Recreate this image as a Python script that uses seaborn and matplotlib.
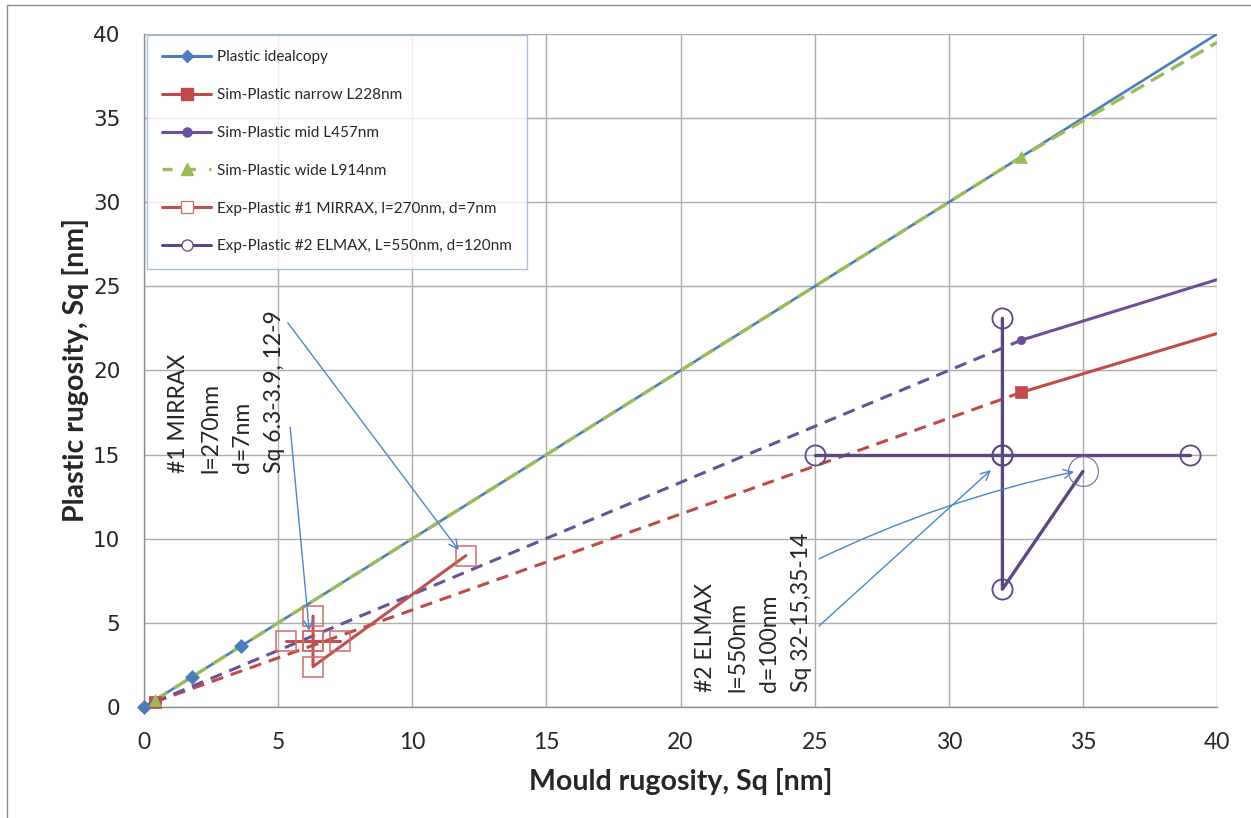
import numpy as np
import pandas as pd
import matplotlib
matplotlib.use("Agg")
import matplotlib.pyplot as plt
import seaborn as sns
from matplotlib.lines import Line2D
from matplotlib.patches import Rectangle

# ---------------- data ----------------
ideal_mould = [0.0, 1.8, 3.6, 40.0]
ideal_plastic = [0.0, 1.8, 3.6, 40.0]

sim_mould = [0.4, 32.7, 40.0]
sim_narrow = [0.3, 18.7, 22.2]
sim_mid = [0.3, 21.8, 25.4]
sim_wide = [0.4, 32.7, 39.5]

exp1_mould = [5.3, 6.3, 7.3, 6.3, 6.3, 6.3, 12.0]
exp1_plastic = [3.9, 3.9, 3.9, 5.4, 3.9, 2.4, 9.0]
exp1_trace = [0, 0, 0, 1, 1, 1, 1]

exp2_mould = [25.0, 32.0, 39.0, 32.0, 32.0, 32.0, 35.0]
exp2_plastic = [15.0, 15.0, 15.0, 23.1, 15.0, 7.0, 14.0]
exp2_trace = [0, 0, 0, 1, 1, 1, 1]

legend_labels = [
    "Plastic idealcopy",
    "Sim-Plastic narrow L228nm",
    "Sim-Plastic mid L457nm",
    "Sim-Plastic wide L914nm",
    "Exp-Plastic #1 MIRRAX, l=270nm, d=7nm",
    "Exp-Plastic #2 ELMAX, L=550nm, d=120nm",
]
ticks = [0, 5, 10, 15, 20, 25, 30, 35, 40]

note1 = "#1 MIRRAX\nl=270nm\nd=7nm\nSq 6.3-3.9, 12-9"
note2 = "#2 ELMAX\nl=550nm\nd=100nm\nSq 32-15,35-14"

# ---------------- style ----------------
sns.set_style("white")
plt.rcParams["font.family"] = ["Lato", "DejaVu Sans"]

BLUE = "#4A7EBB"
RED = "#BE4B48"
PURPLE = "#6B4F98"
PURPLE2 = "#5E4683"
GREEN = "#9BBB59"
ARROW = "#4A86C8"
GRID = "#ADADAD"

fig = plt.figure(figsize=(12.51, 8.18), dpi=100)
ax = fig.add_axes([144 / 1251, 1 - 707 / 818, (1217 - 144) / 1251, (707 - 34) / 818])


def draw(x, y, units=None, **kw):
    df = pd.DataFrame({"x": x, "y": y})
    if units is not None:
        df["u"] = units
        sns.lineplot(data=df, x="x", y="y", units="u", estimator=None, sort=False,
                     ax=ax, legend=False, **kw)
    else:
        sns.lineplot(data=df, x="x", y="y", estimator=None, sort=False,
                     ax=ax, legend=False, **kw)


# ideal copy
draw(ideal_mould, ideal_plastic, color=BLUE, lw=1.9, zorder=3)
draw(ideal_mould[:3], ideal_plastic[:3], color=BLUE, linestyle="none", marker="D",
     markersize=7.5, markeredgecolor=BLUE, markeredgewidth=0.5, clip_on=False, zorder=6)

# simulations: dashed up to the simulated point, solid beyond
draw(sim_mould[:2], sim_narrow[:2], color=RED, lw=2.2, linestyle=(0, (4, 2.6)), zorder=3)
draw(sim_mould[1:], sim_narrow[1:], color=RED, lw=2.2, zorder=3)
draw(sim_mould[:2], sim_narrow[:2], color=RED, linestyle="none", marker="s",
     markersize=8.5, markeredgecolor=RED, markeredgewidth=0.5, clip_on=False, zorder=6)

draw(sim_mould[:2], sim_mid[:2], color=PURPLE, lw=2.2, linestyle=(0, (4, 2.6)), zorder=3)
draw(sim_mould[1:], sim_mid[1:], color=PURPLE, lw=2.2, zorder=3)
draw(sim_mould[:2], sim_mid[:2], color=PURPLE, linestyle="none", marker="o",
     markersize=6, markeredgecolor=PURPLE, markeredgewidth=0.5, clip_on=False, zorder=6)

draw(sim_mould, sim_wide, color=GREEN, lw=2.4, linestyle=(0, (4.5, 2.4)), zorder=4)
draw(sim_mould[:2], sim_wide[:2], color=GREEN, linestyle="none", marker="^",
     markersize=8.5, markeredgecolor=GREEN, markeredgewidth=0.5, clip_on=False, zorder=6)

# experiments
draw(exp1_mould, exp1_plastic, units=exp1_trace, color="#C0504D", lw=2.2, zorder=5)
draw(exp1_mould, exp1_plastic, color="#C0504D", linestyle="none", marker="s",
     markersize=15, markerfacecolor="none", markeredgecolor="#D26A67",
     markeredgewidth=1.1, zorder=6)

draw(exp2_mould, exp2_plastic, units=exp2_trace, color=PURPLE2, lw=2.4, zorder=5)
draw(exp2_mould[:-1], exp2_plastic[:-1], color=PURPLE2, linestyle="none", marker="o",
     markersize=14.5, markerfacecolor="none", markeredgecolor=PURPLE2,
     markeredgewidth=1.3, zorder=6)
draw(exp2_mould[-1:], exp2_plastic[-1:], color=PURPLE2, linestyle="none", marker="o",
     markersize=21.5, markerfacecolor="none", markeredgecolor="#7A66A0",
     markeredgewidth=0.8, zorder=6)

# ---------------- axes ----------------
ax.set_xlim(0, 40)
ax.set_ylim(0, 40)
ax.set_xticks(ticks)
ax.set_yticks(ticks)
ax.grid(True, color=GRID, lw=1.0)
ax.set_axisbelow(True)
for side in ["top", "right"]:
    ax.spines[side].set_visible(False)
for side in ["left", "bottom"]:
    ax.spines[side].set_color("#8C8C8C")
    ax.spines[side].set_linewidth(1.0)
ax.tick_params(axis="x", direction="out", length=5, width=1, color="#8C8C8C",
               pad=13, labelsize=16.5)
ax.tick_params(axis="y", direction="out", length=5, width=1, color="#8C8C8C",
               pad=12, labelsize=15.5)
for lab in ax.get_yticklabels():
    lab.set_family("DejaVu Sans")
ax.set_xticklabels([str(t) for t in ticks], family="Lato")

ax.set_xlabel("Mould rugosity, Sq [nm]", fontsize=20.5, fontweight="bold")
ax.set_ylabel("Plastic rugosity, Sq [nm]", fontsize=20.5, fontweight="bold")
ax.xaxis.set_label_coords(0.5, -0.09)
ax.yaxis.set_label_coords(-0.051, 0.5)

# ---------------- notes & arrows ----------------
ax.text(0.9, 13.9, note1, rotation=90, ha="left", va="bottom", fontsize=16.5,
        linespacing=1.64, multialignment="left", zorder=7)
ax.text(20.55, 0.9, note2, rotation=90, ha="left", va="bottom", fontsize=16.5,
        linespacing=1.64, multialignment="left", zorder=7)

arrow_kw = dict(arrowstyle="->", color=ARROW, lw=1.0, shrinkA=0, shrinkB=0,
                mutation_scale=16)
ax.annotate("", xy=(11.73, 9.33), xytext=(5.36, 22.84), arrowprops=arrow_kw, zorder=8)
ax.annotate("", xy=(6.16, 4.53), xytext=(5.45, 16.62), arrowprops=arrow_kw, zorder=8)
ax.annotate("", xy=(34.67, 13.98), xytext=(25.16, 8.8),
            arrowprops=dict(arrow_kw, connectionstyle="arc3,rad=-0.06"), zorder=8)
ax.annotate("", xy=(31.57, 14.08), xytext=(25.16, 4.81), arrowprops=arrow_kw, zorder=8)

# ---------------- legend ----------------
handles = [
    Line2D([], [], color=BLUE, lw=2.2, marker="D", ms=6, mec=BLUE),
    Line2D([], [], color=RED, lw=2.2, marker="s", ms=8, mec=RED),
    Line2D([], [], color=PURPLE, lw=2.2, marker="o", ms=6.5, mec=PURPLE),
    Line2D([], [], color=GREEN, lw=2.4, ls=(0, (3, 4)), marker="^", ms=9, mec=GREEN),
    Line2D([], [], color="#C0504D", lw=2.2, marker="s", ms=8.5, mfc="white", mec="#D26A67", mew=0.9),
    Line2D([], [], color=PURPLE2, lw=2.2, marker="o", ms=8, mfc="white", mec=PURPLE2, mew=0.9),
]
leg = ax.legend(handles, legend_labels, loc="upper left",
                bbox_to_anchor=(147 / 1251, 1 - 35 / 818), bbox_transform=fig.transFigure,
                borderaxespad=0, fontsize=11, frameon=True, fancybox=False,
                handlelength=3.2, handletextpad=0.4, labelspacing=1.56,
                borderpad=1.0)
leg.get_frame().set_edgecolor("#95B3D7")
leg.get_frame().set_linewidth(1.0)
leg.set_zorder(10)

# figure border
fig.patches.append(Rectangle((7 / 1251, -0.05), 1.1, 1 - 5 / 818 + 0.05,
                             transform=fig.transFigure, fill=False,
                             edgecolor="#8C8C8C", lw=1.0))

fig.savefig("out.png", dpi=100)
